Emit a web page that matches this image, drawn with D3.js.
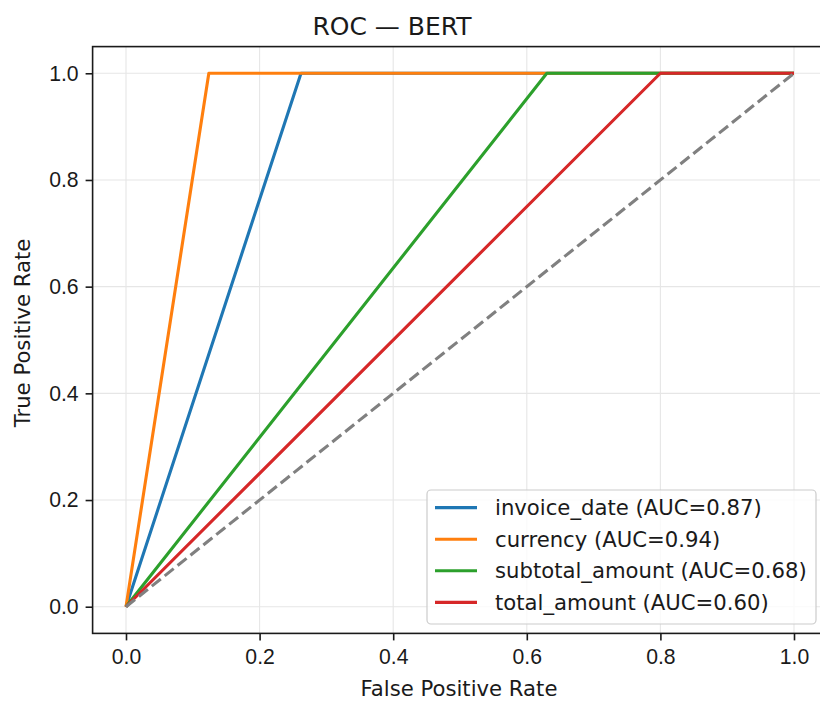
<!DOCTYPE html>
<html>
<head>
<meta charset="utf-8">
<script src="https://cdn.jsdelivr.net/npm/d3@7"></script>
<style>
	body { margin: 0; background: #fff; }
	svg { display: block; font-family: 'DejaVu Sans', sans-serif; }
</style>
</head>
<body>
<div id="chart"></div>
<script>
// ROC points: (0,0) -> (fpr, 1) -> (1,1)
const series_names = ['invoice_date', 'currency', 'subtotal_amount', 'total_amount'];
const series_auc = ['0.87', '0.94', '0.68', '0.60'];
const series_fpr = [
	[0, 0.262, 1],
	[0, 0.124, 1],
	[0, 0.630, 1],
	[0, 0.800, 1]
];
const series_tpr = [
	[0, 1, 1],
	[0, 1, 1],
	[0, 1, 1],
	[0, 1, 1]
];
const chance_line = [0, 1];
const tick_values = [0, 0.2, 0.4, 0.6, 0.8, 1.0];

const width = 820;
const height = 702;
const fontSize = 21.2;

// Axes box in pixels
const axLeft = 92.6;
const axRight = 827.4;
const axTop = 46.6;
const axBottom = 633.4;

const colors = ['#1f77b4', '#ff7f0e', '#2ca02c', '#d62728'];

const svg = d3.select('#chart')
	.append('svg')
	.attr('width', width)
	.attr('height', height)
	.attr('viewBox', [0, 0, width, height]);

const x = d3.scaleLinear().domain([-0.05, 1.05]).range([axLeft, axRight]);
const y = d3.scaleLinear().domain([-0.05, 1.05]).range([axBottom, axTop]);

// Grid
const grid = svg.append('g').attr('stroke', '#e6e6e6').attr('stroke-width', 1.1);
grid.selectAll('line.gx')
	.data(tick_values)
	.enter()
	.append('line')
	.attr('x1', (d) => x(d))
	.attr('x2', (d) => x(d))
	.attr('y1', axTop)
	.attr('y2', axBottom);
grid.selectAll('line.gy')
	.data(tick_values)
	.enter()
	.append('line')
	.attr('x1', axLeft)
	.attr('x2', axRight)
	.attr('y1', (d) => y(d))
	.attr('y2', (d) => y(d));

// ROC curves
const line = d3.line().x((d) => x(d[0])).y((d) => y(d[1]));
const curves = series_names.map((name, i) =>
	series_fpr[i].map((f, j) => [f, series_tpr[i][j]])
);

svg.append('g')
	.selectAll('path')
	.data(curves)
	.enter()
	.append('path')
	.attr('d', line)
	.attr('fill', 'none')
	.attr('stroke', (d, i) => colors[i])
	.attr('stroke-width', 3.1)
	.attr('stroke-linejoin', 'round');

// Chance diagonal
svg.append('path')
	.attr('d', line(chance_line.map((v) => [v, v])))
	.attr('fill', 'none')
	.attr('stroke', '#808080')
	.attr('stroke-width', 3.1)
	.attr('stroke-dasharray', '11.5,5');

// Axes frame
svg.append('rect')
	.attr('x', axLeft)
	.attr('y', axTop)
	.attr('width', axRight - axLeft)
	.attr('height', axBottom - axTop)
	.attr('fill', 'none')
	.attr('stroke', '#1a1a1a')
	.attr('stroke-width', 1.6);

// X axis
const xAxis = d3.axisBottom(x)
	.tickValues(tick_values)
	.tickFormat(d3.format('.1f'))
	.tickSize(7)
	.tickPadding(7);
const gx = svg.append('g')
	.attr('transform', 'translate(0,' + axBottom + ')')
	.call(xAxis);
gx.select('.domain').remove();
gx.selectAll('line').attr('stroke', '#1a1a1a').attr('stroke-width', 1.6);
gx.selectAll('text')
	.attr('fill', '#1a1a1a')
	.style('font-size', fontSize + 'px')
	.attr('dy', '0.76em');

// Y axis
const yAxis = d3.axisLeft(y)
	.tickValues(tick_values)
	.tickFormat(d3.format('.1f'))
	.tickSize(7)
	.tickPadding(7);
const gy = svg.append('g')
	.attr('transform', 'translate(' + axLeft + ',0)')
	.call(yAxis);
gy.select('.domain').remove();
gy.selectAll('line').attr('stroke', '#1a1a1a').attr('stroke-width', 1.6);
gy.selectAll('text')
	.attr('fill', '#1a1a1a')
	.style('font-size', fontSize + 'px');

// Labels and title
svg.append('text')
	.attr('x', 459)
	.attr('y', 696)
	.attr('text-anchor', 'middle')
	.attr('fill', '#1a1a1a')
	.style('font-size', fontSize + 'px')
	.text('False Positive Rate');

svg.append('text')
	.attr('transform', 'translate(30,333) rotate(-90)')
	.attr('text-anchor', 'middle')
	.attr('fill', '#1a1a1a')
	.style('font-size', fontSize + 'px')
	.text('True Positive Rate');

svg.append('text')
	.attr('x', 392)
	.attr('y', 34.5)
	.attr('text-anchor', 'middle')
	.attr('fill', '#1a1a1a')
	.style('font-size', '25px')
	.text('ROC \u2014 BERT');

// Legend
const legLeft = 427;
const legTop = 490;
const legRight = 816;
const legBottom = 624;
const rowY = [507.6, 539.2, 570.8, 602.4];

const legend = svg.append('g');
legend.append('rect')
	.attr('x', legLeft)
	.attr('y', legTop)
	.attr('width', legRight - legLeft)
	.attr('height', legBottom - legTop)
	.attr('rx', 4)
	.attr('fill', 'white')
	.attr('fill-opacity', 0.8)
	.attr('stroke', '#cccccc')
	.attr('stroke-width', 1.2);

const rows = legend.selectAll('g')
	.data(series_names)
	.enter()
	.append('g')
	.attr('transform', (d, i) => 'translate(0,' + rowY[i] + ')');
rows.append('line')
	.attr('x1', 435)
	.attr('x2', 477)
	.attr('stroke', (d, i) => colors[i])
	.attr('stroke-width', 3.1);
rows.append('text')
	.attr('x', 495)
	.attr('dy', '0.36em')
	.attr('fill', '#1a1a1a')
	.style('font-size', fontSize + 'px')
	.text((d, i) => d + ' (AUC=' + series_auc[i] + ')');
</script>
</body>
</html>
